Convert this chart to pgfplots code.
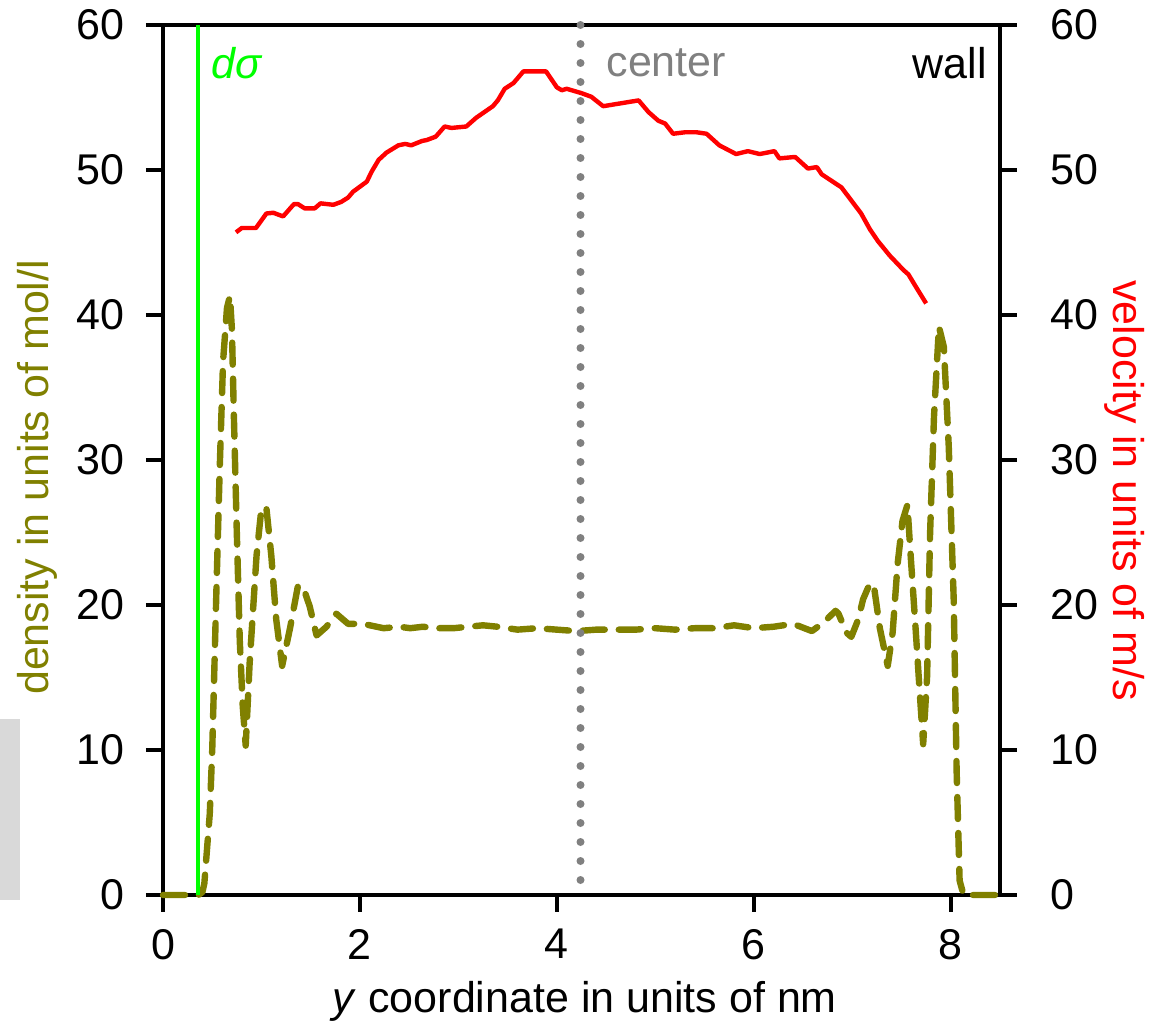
\documentclass[border=0pt]{standalone}
\usepackage{pgfplots}
\pgfplotsset{compat=1.18}
\usepackage{fontspec}
\setmainfont{Liberation Sans}
\definecolor{olivec}{RGB}{128,128,0}
\definecolor{greenc}{RGB}{0,255,0}
\definecolor{grayc}{RGB}{128,128,128}
\definecolor{boxgray}{RGB}{217,217,217}
\begin{document}
\fontsize{21.5}{25}\selectfont
\begin{tikzpicture}
\useasboundingbox (-81.5pt,-63.5pt) rectangle (494.5pt,447.5pt);
\fill[boxgray] (-81.5pt,-2.5pt) rectangle (-71.5pt,88pt);
\begin{axis}[
  at={(0,0)}, anchor=south west,
  scale only axis, width=418.5pt, height=435pt,
  xmin=0, xmax=8.5, ymin=0, ymax=60,
  xtick={0,2,4,6,8}, ytick={0,10,20,30,40,50,60},
  xtick pos=lower, ytick pos=left, tick align=outside,
  major tick length=8.5pt,
  every tick/.style={line width=2pt, black},
  axis line style={line width=2pt},
  /pgf/number format/assume math mode=true,
  tick label style={font=\fontsize{21.5}{25}\selectfont},
  xticklabel style={yshift=-7.5pt, inner sep=1pt},
  yticklabel style={xshift=-3.5pt},
  clip=false,
]
\addplot[olivec, line width=3.2pt, dash pattern=on 11pt off 7pt, line cap=round, line join=round] coordinates {
(0,0) (0.36,0) (0.40,0.2) (0.42,0.8) (0.475,5.6) (0.50,10) (0.54,20.4) (0.576,29.4) (0.61,36.8) (0.65,40.5) (0.68,41.3) (0.70,39) (0.72,33) (0.75,24.9) (0.78,17.5) (0.81,13) (0.84,10.3) (0.88,16) (0.95,23.4) (1.0,26.7) (1.05,26.7) (1.10,23.4) (1.15,19) (1.21,15.8) (1.29,18.4) (1.37,21.3) (1.42,21.3) (1.49,19.9) (1.56,17.9) (1.66,18.5) (1.76,19.4) (1.88,18.7) (2.03,18.7) (2.24,18.4) (2.4,18.5) (2.51,18.4) (2.64,18.5) (2.78,18.4) (2.95,18.4) (3.1,18.5) (3.25,18.6) (3.4,18.5) (3.6,18.3) (3.8,18.4) (4.0,18.3) (4.2,18.2) (4.4,18.3) (4.6,18.3) (4.8,18.3) (5.0,18.4) (5.2,18.3) (5.4,18.4) (5.6,18.4) (5.8,18.6) (6.0,18.4) (6.2,18.5) (6.4,18.7) (6.59,18.2) (6.71,18.8) (6.83,19.6) (6.86,19.4) (6.94,18.1) (6.99,17.8) (7.06,19) (7.11,20.4) (7.18,21.5) (7.22,21.3) (7.28,18.4) (7.36,15.8) (7.41,18.1) (7.46,22.8) (7.51,25.8) (7.56,26.9) (7.59,23.7) (7.64,18.7) (7.68,14.5) (7.72,10.4) (7.76,15.1) (7.79,24.9) (7.83,33) (7.88,39.2) (7.93,37.8) (7.98,30.9) (8.03,20.4) (8.06,8.5) (8.09,1) (8.13,0) (8.5,0)
};
\addplot[greenc, line width=2.2pt] coordinates {(0.356,0) (0.356,60)};
\addplot[grayc, line width=4pt, dash pattern=on 0pt off 9.5pt, line cap=round] coordinates {(4.24,60) (4.24,0)};
\node[anchor=west, text=greenc, inner sep=0pt] at (axis cs:0.49,57.4) {\textit{dσ}};
\node[anchor=west, text=grayc, inner sep=0pt] at (axis cs:4.5,57.4) {center};
\node[anchor=east, inner sep=0pt] at (axis cs:8.37,57.4) {wall};
\node[rotate=90, text=olivec, anchor=center] at ([xshift=-63pt]rel axis cs:0,0.48) {density in units of mol/l};
\node[anchor=center, inner sep=0pt] at ([yshift=-53pt]rel axis cs:0.504,0) {\textit{y} coordinate in units of nm};
\end{axis}
\begin{axis}[
  at={(0,0)}, anchor=south west,
  scale only axis, width=418.5pt, height=435pt,
  xmin=0, xmax=8.5, ymin=0, ymax=60,
  axis x line=none, axis y line*=right,
  ytick={0,10,20,30,40,50,60},
  tick align=outside,
  major tick length=8.5pt,
  every tick/.style={line width=2pt, black},
  axis line style={line width=2pt},
  /pgf/number format/assume math mode=true,
  tick label style={font=\fontsize{21.5}{25}\selectfont},
  yticklabel style={xshift=9.5pt},
  clip=false,
]
\addplot[red, line width=2.2pt, line join=round] coordinates {
(0.741,45.7) (0.80,46.0) (0.944,46.0) (1.05,47.0) (1.12,47.05) (1.22,46.8) (1.33,47.65) (1.37,47.65) (1.44,47.35) (1.54,47.35) (1.60,47.7) (1.73,47.6) (1.81,47.8) (1.88,48.1) (1.93,48.5) (2.07,49.2) (2.12,49.9) (2.19,50.7) (2.27,51.2) (2.39,51.7) (2.46,51.8) (2.52,51.7) (2.63,52.0) (2.68,52.07) (2.77,52.3) (2.86,53.0) (2.93,52.9) (3.08,53.0) (3.18,53.6) (3.35,54.4) (3.40,54.8) (3.47,55.6) (3.56,56.0) (3.66,56.8) (3.79,56.8) (3.89,56.8) (4.00,55.7) (4.05,55.5) (4.10,55.6) (4.25,55.3) (4.35,55.05) (4.47,54.4) (4.83,54.8) (4.93,54.0) (5.03,53.4) (5.10,53.2) (5.18,52.5) (5.30,52.6) (5.42,52.6) (5.52,52.5) (5.65,51.7) (5.82,51.1) (5.94,51.3) (6.06,51.1) (6.21,51.3) (6.26,50.8) (6.42,50.9) (6.55,50.1) (6.64,50.2) (6.69,49.7) (6.89,48.8) (7.09,47.0) (7.18,45.9) (7.26,45.1) (7.38,44.1) (7.52,43.1) (7.57,42.8) (7.65,41.9) (7.75,40.8)
};
\node[rotate=-90, text=red, anchor=center] at ([xshift=62.5pt]rel axis cs:1,0.465) {velocity in units of m/s};
\end{axis}
\end{tikzpicture}
\end{document}
